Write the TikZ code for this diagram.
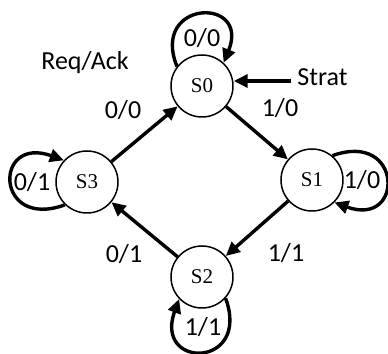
\documentclass[tikz,border=0pt]{standalone}
\usepackage{fontspec}
\setmainfont{Carlito}
\newfontfamily\statefont{Liberation Serif}
\usetikzlibrary{arrows.meta}
\begin{document}
\begin{tikzpicture}[x=0.5pt,y=0.5pt,
  state/.style={circle,draw,line width=0.75pt,minimum size=31pt,inner sep=0pt,
    font=\statefont\fontsize{10.5}{12}\selectfont},
  lbl/.style={font=\fontsize{13}{15}\selectfont,inner sep=0pt},
  trans/.style={line width=1.7pt,-{Triangle[length=7pt,width=6.5pt]}},
]
\useasboundingbox (0,0) rectangle (388,354);

% states
\node[state] (s0) at (202,268) {S0};
\node[state] (s1) at (312,174) {S1};
\node[state] (s2) at (202,77)  {S2};
\node[state] (s3) at (87,172)  {S3};

% transitions between states
\draw[trans] (s3) -- (s0);
\draw[trans] (s0) -- (s1);
\draw[trans] (s1) -- (s2);
\draw[trans] (s2) -- (s3);

% self loops
\draw[trans] (s0.142) .. controls +(112:72) and +(68:72) .. (s0.47);
\draw[trans] (s1.50) .. controls +(20:75) and +(-20:75) .. (s1.-45);
\draw[trans] (s3.-134) .. controls +(200:75) and +(160:75) .. (s3.137);
\draw[trans] (s2.-42) .. controls +(-70:75) and +(-110:75) .. (s2.-136);

% start input
\node[lbl,anchor=west] (strat) at (297,277) {Strat};
\coordinate (stin) at (291,273);
\draw[trans] (stin) -- (s0.east |- stin);

% labels
\node[lbl] (legend) at (85,291) {Req/Ack};
\node[lbl] (l00a) at (202,316) {0/0};
\node[lbl] (l00b) at (123,244) {0/0};
\node[lbl] (l10a) at (280,246) {1/0};
\node[lbl] (l10b) at (362,174) {1/0};
\node[lbl] (l01a) at (32,172)  {0/1};
\node[lbl] (l01b) at (124,100) {0/1};
\node[lbl] (l11a) at (286,101) {1/1};
\node[lbl] (l11b) at (203,27)  {1/1};
\end{tikzpicture}
\end{document}
